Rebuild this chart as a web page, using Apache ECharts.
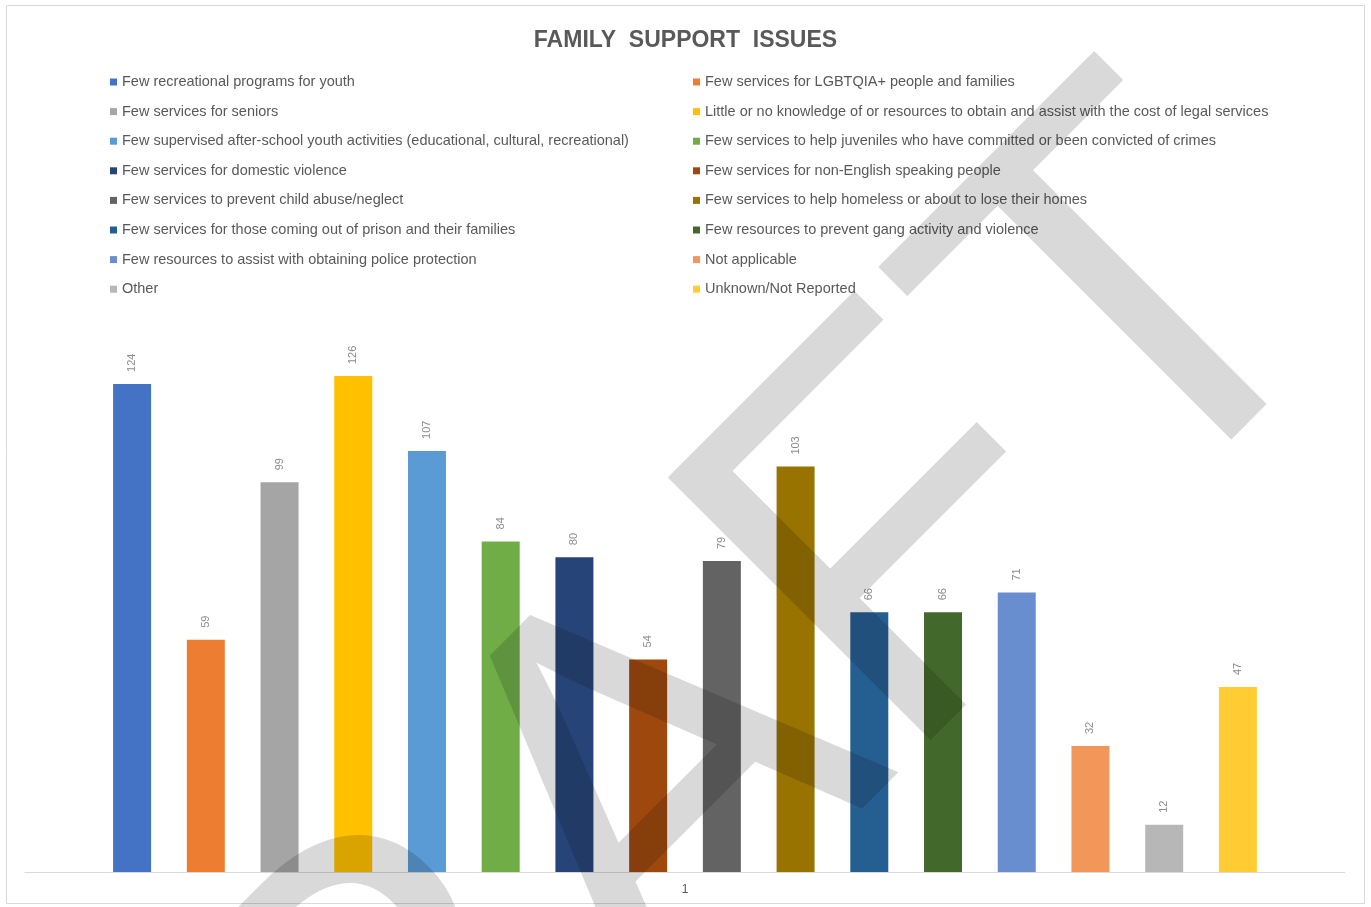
<!DOCTYPE html>
<html>
<head>
<meta charset="utf-8">
<script src="https://cdn.jsdelivr.net/npm/echarts@6/dist/echarts.min.js"></script>
<style>
  html, body { margin: 0; padding: 0; background: #fff; }
  #main { width: 1371px; height: 907px; }
  /* watermark layer multiplies over the bars */
  #main canvas[data-zr-dom-id="zr_1"] { mix-blend-mode: multiply; }
</style>
</head>
<body>
<div id="main"></div>
<script>
const categories = ['1'];

const seriesNames = [
    'Few recreational programs for youth',
    'Few services for LGBTQIA+ people and families',
    'Few services for seniors',
    'Little or no knowledge of or resources to obtain and assist with the cost of legal services',
    'Few supervised after-school youth activities (educational, cultural, recreational)',
    'Few services to help juveniles who have committed or been convicted of crimes',
    'Few services for domestic violence',
    'Few services for non-English speaking people',
    'Few services to prevent child abuse/neglect',
    'Few services to help homeless or about to lose their homes',
    'Few services for those coming out of prison and their families',
    'Few resources to prevent gang activity and violence',
    'Few resources to assist with obtaining police protection',
    'Not applicable',
    'Other',
    'Unknown/Not Reported'
];

const seriesValues = [124, 59, 99, 126, 107, 84, 80, 54, 79, 103, 66, 66, 71, 32, 12, 47];

const seriesColors = [
    '#4472C4', '#ED7D31', '#A5A5A5', '#FFC000', '#5B9BD5', '#70AD47', '#264478', '#9E480E',
    '#636363', '#997300', '#255E91', '#43682B', '#698ED0', '#F1975A', '#B7B7B7', '#FFCD33'
];

const chart = echarts.init(document.getElementById('main'));

const font = '"Liberation Sans", Arial, sans-serif';

const legendBase = {
    orient: 'vertical',
    top: 69,
    itemWidth: 7,
    itemHeight: 7,
    itemGap: 13.6,
    icon: 'rect',
    selectedMode: false,
    textStyle: { color: '#595959', fontSize: 14.5, fontFamily: font, lineHeight: 16 }
};

const series = seriesNames.map((name, i) => ({
    name: name,
    type: 'bar',
    data: [seriesValues[i]],
    barWidth: 38,
    barGap: '94%',
    itemStyle: { color: seriesColors[i] },
    label: {
        show: true,
        position: 'top',
        rotate: 90,
        align: 'left',
        verticalAlign: 'middle',
        distance: 12,
        color: '#8c8c8c',
        fontSize: 11,
        fontFamily: font
    }
}));

option = {
    backgroundColor: '#fff',
    animation: false,
    title: {
        text: 'FAMILY  SUPPORT  ISSUES',
        left: 'center',
        top: 24,
        textStyle: { color: '#595959', fontSize: 23, fontWeight: 'bold', fontFamily: font }
    },
    legend: [
        Object.assign({}, legendBase, { left: 105, data: seriesNames.filter((n, i) => i % 2 === 0) }),
        Object.assign({}, legendBase, { left: 688, data: seriesNames.filter((n, i) => i % 2 === 1) })
    ],
    grid: {
        left: 25,
        right: 26,
        top: 321,
        bottom: 35,
        containLabel: false
    },
    xAxis: {
        type: 'category',
        data: categories,
        axisLine: { lineStyle: { color: '#d9d9d9' } },
        axisTick: { show: false },
        axisLabel: { color: '#595959', fontSize: 12, fontFamily: font, margin: 12 }
    },
    yAxis: {
        type: 'value',
        min: 0,
        max: 140,
        show: false,
        splitLine: { show: false }
    },
    series: series,
    graphic: [
        {
            type: 'rect',
            z: -1,
            shape: { x: 6.5, y: 5.5, width: 1358, height: 898 },
            style: { fill: null, stroke: '#d9d9d9', lineWidth: 1 }
        },
        {
            type: 'text',
            zlevel: 1,
            x: 624,
            y: 836,
            rotation: Math.PI / 4,
            silent: true,
            style: {
                text: 'DRAFT',
                font: '540px "Liberation Sans", Arial, sans-serif',
                fill: '#d9d9d9',
                align: 'center',
                verticalAlign: 'middle'
            }
        }
    ]
};

chart.setOption(option);
</script>
</body>
</html>
